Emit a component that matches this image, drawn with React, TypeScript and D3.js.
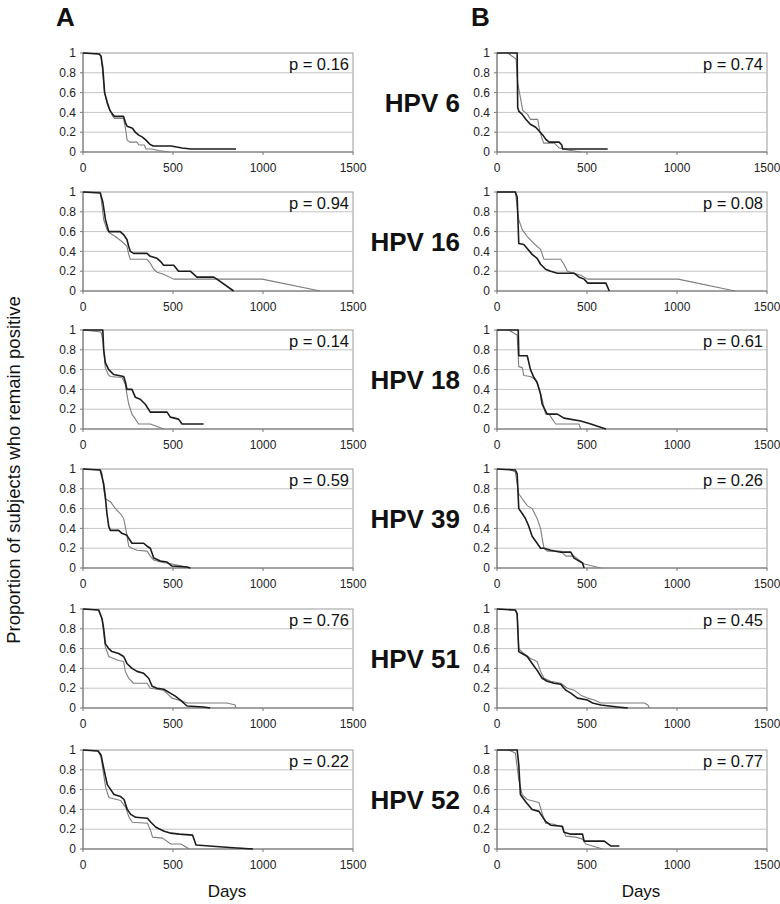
import React from 'react';
import * as d3 from 'd3';

type Pt = [number, number]; // [days, proportion]

// --- data ---
const hpvTypes = ['HPV 6', 'HPV 16', 'HPV 18', 'HPV 39', 'HPV 51', 'HPV 52'];
const pValuesA = ['0.16', '0.94', '0.14', '0.59', '0.76', '0.22'];
const pValuesB = ['0.74', '0.08', '0.61', '0.26', '0.45', '0.77'];
const xTicks = [0, 500, 1000, 1500];
const yTicks = [0, 0.2, 0.4, 0.6, 0.8, 1];
const yTickLabels = ['0', '0.2', '0.4', '0.6', '0.8', '1'];

// HPV 6
const hpv6A_black: Pt[] = [[0, 1], [90, 0.99], [100, 0.97], [110, 0.85], [120, 0.6], [135, 0.5], [150, 0.42], [165, 0.38], [175, 0.36], [225, 0.36], [235, 0.3], [245, 0.26], [275, 0.24], [290, 0.2], [310, 0.17], [330, 0.15], [350, 0.12], [370, 0.08], [390, 0.06], [490, 0.06], [550, 0.04], [600, 0.03], [850, 0.03]];
const hpv6A_gray: Pt[] = [[0, 1], [90, 0.99], [100, 0.96], [110, 0.8], [120, 0.6], [135, 0.48], [150, 0.42], [165, 0.36], [175, 0.34], [225, 0.34], [235, 0.25], [245, 0.12], [260, 0.1], [300, 0.1], [310, 0.07], [340, 0.07], [350, 0.03], [380, 0.03], [420, 0.015], [480, 0]];
const hpv6B_black: Pt[] = [[0, 1], [112, 1], [115, 0.45], [122, 0.41], [140, 0.38], [160, 0.33], [185, 0.28], [215, 0.25], [235, 0.21], [255, 0.17], [270, 0.13], [290, 0.1], [345, 0.1], [360, 0.07], [365, 0.03], [615, 0.03]];
const hpv6B_gray: Pt[] = [[59, 1], [106, 0.94], [115, 0.7], [130, 0.55], [143, 0.42], [170, 0.38], [185, 0.33], [226, 0.33], [239, 0.2], [259, 0.09], [319, 0.09], [346, 0.04], [393, 0.02], [467, 0]];

// HPV 16
const hpv16A_black: Pt[] = [[0, 1], [96, 0.99], [110, 0.9], [125, 0.72], [143, 0.6], [207, 0.6], [225, 0.57], [244, 0.52], [254, 0.45], [263, 0.4], [281, 0.38], [355, 0.38], [374, 0.35], [411, 0.33], [430, 0.3], [448, 0.26], [504, 0.26], [531, 0.2], [596, 0.2], [633, 0.14], [726, 0.14], [744, 0.12], [837, 0]];
const hpv16A_gray: Pt[] = [[0, 1], [96, 1], [115, 0.72], [133, 0.62], [152, 0.58], [180, 0.55], [216, 0.5], [244, 0.45], [254, 0.37], [263, 0.32], [355, 0.32], [374, 0.28], [393, 0.22], [411, 0.19], [448, 0.17], [504, 0.12], [995, 0.12], [1318, 0]];
const hpv16B_black: Pt[] = [[0, 1], [102, 1], [112, 0.95], [121, 0.48], [149, 0.47], [168, 0.43], [195, 0.37], [223, 0.33], [242, 0.27], [270, 0.22], [298, 0.2], [335, 0.18], [428, 0.18], [456, 0.14], [484, 0.12], [503, 0.08], [605, 0.08], [624, 0]];
const hpv16B_gray: Pt[] = [[0, 1], [102, 1], [121, 0.72], [140, 0.62], [168, 0.55], [205, 0.48], [242, 0.42], [261, 0.32], [354, 0.32], [372, 0.27], [391, 0.2], [428, 0.18], [465, 0.16], [503, 0.12], [1006, 0.12], [1322, 0]];

// HPV 18
const hpv18A_black: Pt[] = [[0, 1], [110, 1], [115, 0.8], [124, 0.67], [143, 0.6], [170, 0.55], [226, 0.53], [235, 0.48], [244, 0.4], [272, 0.4], [291, 0.32], [318, 0.3], [346, 0.25], [374, 0.17], [467, 0.17], [485, 0.12], [531, 0.1], [550, 0.05], [670, 0.05]];
const hpv18A_gray: Pt[] = [[0, 1], [100, 0.98], [110, 0.9], [124, 0.62], [140, 0.55], [152, 0.53], [217, 0.52], [235, 0.45], [244, 0.35], [254, 0.25], [272, 0.15], [291, 0.1], [309, 0.05], [374, 0.05], [448, 0]];
const hpv18B_black: Pt[] = [[0, 1], [118, 1], [121, 0.74], [168, 0.74], [186, 0.6], [205, 0.52], [223, 0.47], [242, 0.35], [251, 0.25], [270, 0.18], [279, 0.15], [335, 0.15], [372, 0.11], [465, 0.08], [521, 0.05], [605, 0]];
const hpv18B_gray: Pt[] = [[65, 1], [112, 0.95], [121, 0.63], [140, 0.62], [149, 0.54], [186, 0.53], [214, 0.5], [233, 0.42], [251, 0.3], [270, 0.15], [289, 0.15], [326, 0.05], [456, 0.05], [465, 0]];

// HPV 39
const hpv39A_black: Pt[] = [[0, 1], [96, 0.99], [115, 0.85], [124, 0.72], [133, 0.55], [143, 0.42], [152, 0.38], [198, 0.38], [216, 0.35], [244, 0.33], [254, 0.3], [272, 0.25], [337, 0.25], [356, 0.22], [374, 0.2], [393, 0.1], [430, 0.07], [467, 0.06], [494, 0.02], [578, 0.01], [596, 0]];
const hpv39A_gray: Pt[] = [[0, 1], [96, 0.99], [106, 0.95], [115, 0.8], [124, 0.7], [152, 0.67], [180, 0.6], [207, 0.55], [226, 0.5], [235, 0.42], [244, 0.33], [254, 0.22], [272, 0.2], [300, 0.18], [356, 0.17], [374, 0.12], [393, 0.08], [430, 0.06], [494, 0.04], [578, 0.01], [596, 0]];
const hpv39B_black: Pt[] = [[0, 1], [102, 0.99], [112, 0.95], [121, 0.6], [140, 0.55], [158, 0.5], [177, 0.42], [195, 0.32], [223, 0.25], [242, 0.2], [261, 0.2], [298, 0.18], [354, 0.16], [410, 0.16], [428, 0.1], [447, 0.08], [475, 0.05], [484, 0]];
const hpv39B_gray: Pt[] = [[65, 1], [102, 0.97], [121, 0.75], [140, 0.7], [168, 0.63], [195, 0.6], [223, 0.5], [242, 0.4], [251, 0.3], [261, 0.2], [279, 0.17], [354, 0.17], [382, 0.12], [428, 0.12], [484, 0.04], [577, 0]];

// HPV 51
const hpv51A_black: Pt[] = [[0, 1], [87, 0.99], [106, 0.9], [115, 0.8], [124, 0.65], [143, 0.6], [161, 0.57], [198, 0.55], [226, 0.52], [244, 0.45], [272, 0.4], [300, 0.37], [337, 0.35], [365, 0.3], [384, 0.22], [411, 0.2], [448, 0.19], [485, 0.15], [513, 0.12], [541, 0.08], [578, 0.02], [670, 0.01], [707, 0]];
const hpv51A_gray: Pt[] = [[0, 1], [87, 0.99], [106, 0.9], [124, 0.62], [143, 0.52], [198, 0.48], [226, 0.47], [235, 0.37], [254, 0.3], [281, 0.25], [356, 0.25], [374, 0.2], [448, 0.18], [494, 0.1], [550, 0.07], [578, 0.05], [800, 0.05], [846, 0.03], [848, 0]];
const hpv51B_black: Pt[] = [[0, 1], [102, 0.99], [112, 0.95], [121, 0.57], [140, 0.55], [168, 0.52], [195, 0.45], [223, 0.38], [251, 0.3], [279, 0.27], [317, 0.25], [354, 0.24], [382, 0.18], [410, 0.15], [447, 0.1], [503, 0.08], [531, 0.05], [577, 0.03], [670, 0.01], [726, 0]];
const hpv51B_gray: Pt[] = [[0, 1], [102, 0.99], [112, 0.95], [121, 0.6], [149, 0.55], [186, 0.5], [223, 0.47], [242, 0.37], [261, 0.3], [298, 0.27], [354, 0.25], [391, 0.2], [428, 0.18], [465, 0.13], [503, 0.1], [540, 0.08], [577, 0.05], [819, 0.05], [838, 0.03], [847, 0]];

// HPV 52
const hpv52A_black: Pt[] = [[0, 1], [84, 0.99], [100, 0.95], [117, 0.8], [135, 0.65], [154, 0.6], [172, 0.55], [209, 0.53], [228, 0.5], [246, 0.4], [265, 0.35], [293, 0.32], [358, 0.31], [377, 0.27], [405, 0.22], [451, 0.18], [488, 0.16], [535, 0.15], [609, 0.14], [628, 0.04], [702, 0.03], [814, 0.015], [944, 0]];
const hpv52A_gray: Pt[] = [[0, 1], [84, 0.99], [100, 0.93], [126, 0.62], [144, 0.52], [209, 0.49], [237, 0.42], [256, 0.32], [274, 0.27], [358, 0.26], [377, 0.18], [386, 0.12], [442, 0.11], [488, 0.05], [544, 0.05], [591, 0]];
const hpv52B_black: Pt[] = [[0, 1], [112, 1], [121, 0.85], [130, 0.55], [158, 0.48], [195, 0.4], [233, 0.38], [251, 0.33], [270, 0.28], [298, 0.24], [363, 0.23], [372, 0.17], [410, 0.15], [475, 0.15], [484, 0.08], [596, 0.08], [633, 0.03], [680, 0.03]];
const hpv52B_gray: Pt[] = [[65, 1], [102, 0.97], [121, 0.7], [140, 0.55], [168, 0.5], [233, 0.47], [251, 0.36], [270, 0.26], [317, 0.25], [363, 0.22], [382, 0.13], [438, 0.12], [475, 0.1], [493, 0.05], [587, 0]];

const seriesA = [
  [hpv6A_black, hpv6A_gray], [hpv16A_black, hpv16A_gray], [hpv18A_black, hpv18A_gray],
  [hpv39A_black, hpv39A_gray], [hpv51A_black, hpv51A_gray], [hpv52A_black, hpv52A_gray],
];
const seriesB = [
  [hpv6B_black, hpv6B_gray], [hpv16B_black, hpv16B_gray], [hpv18B_black, hpv18B_gray],
  [hpv39B_black, hpv39B_gray], [hpv51B_black, hpv51B_gray], [hpv52B_black, hpv52B_gray],
];

// --- layout ---
const W = 780;
const H = 904;
const plotW = 270;
const plotH = 99;
const colLeft = [83, 497];
const rowTop = [53, 192, 330, 469, 609, 750];
const FONT = 'Arial, "Liberation Sans", Helvetica, sans-serif';

const x = d3.scaleLinear().domain([0, 1500]).range([0, plotW]);
const y = d3.scaleLinear().domain([0, 1]).range([plotH, 0]);
const line = d3.line<Pt>().x(d => x(d[0])).y(d => y(d[1]));

const Panel: React.FC<{ left: number; top: number; black: Pt[]; gray: Pt[]; p: string }> = ({ left, top, black, gray, p }) => (
  <g transform={`translate(${left},${top})`}>
    <rect x={0} y={0} width={plotW} height={plotH} fill="#fff" stroke="#9a9a9a" strokeWidth={1} />
    {yTicks.filter(t => t > 0 && t < 1).map(t => (
      <line key={t} x1={0} x2={plotW} y1={y(t)} y2={y(t)} stroke="#c4c4c4" strokeWidth={1} />
    ))}
    {/* axes */}
    <line x1={0} x2={plotW} y1={plotH} y2={plotH} stroke="#777" strokeWidth={1} />
    <line x1={0} x2={0} y1={0} y2={plotH} stroke="#777" strokeWidth={1} />
    {xTicks.map(t => (
      <g key={t}>
        <line x1={x(t)} x2={x(t)} y1={plotH} y2={plotH + 3} stroke="#777" />
        <text x={x(t)} y={plotH + 20} textAnchor="middle" fontSize={12} fontFamily={FONT} fill="#222">{t}</text>
      </g>
    ))}
    {yTicks.map((t, i) => (
      <g key={t}>
        <line x1={-3} x2={0} y1={y(t)} y2={y(t)} stroke="#777" />
        <text x={-7} y={y(t) + 4.2} textAnchor="end" fontSize={12} fontFamily={FONT} fill="#222">{yTickLabels[i]}</text>
      </g>
    ))}
    <path d={line(gray) || ''} fill="none" stroke="#7d7d7d" strokeWidth={1.1} strokeLinejoin="round" />
    <path d={line(black) || ''} fill="none" stroke="#1c1c1c" strokeWidth={1.6} strokeLinejoin="round" />
    <text x={plotW - 4} y={17} textAnchor="end" fontSize={16.5} fontFamily={FONT} fill="#111">{`p = ${p}`}</text>
  </g>
);

export default function App() {
  return (
    <svg width={W} height={H} viewBox={`0 0 ${W} ${H}`}
      style={{ position: 'absolute', left: 0, top: 0, background: '#fff' }}>
      <rect width={W} height={H} fill="#fff" />
      <text x={56} y={26} fontSize={26} fontWeight="bold" fontFamily={FONT} fill="#111">A</text>
      <text x={471} y={26} fontSize={26} fontWeight="bold" fontFamily={FONT} fill="#111">B</text>
      {hpvTypes.map((name, i) => (
        <g key={name}>
          <Panel left={colLeft[0]} top={rowTop[i]} black={seriesA[i][0]} gray={seriesA[i][1]} p={pValuesA[i]} />
          <Panel left={colLeft[1]} top={rowTop[i]} black={seriesB[i][0]} gray={seriesB[i][1]} p={pValuesB[i]} />
          <text x={460} y={rowTop[i] + plotH / 2 + 9} textAnchor="end" fontSize={26} fontWeight="bold"
            fontFamily={FONT} fill="#111">{name}</text>
        </g>
      ))}
      <text x={227} y={897} textAnchor="middle" fontSize={17} fontFamily={FONT} fill="#111">Days</text>
      <text x={641} y={897} textAnchor="middle" fontSize={17} fontFamily={FONT} fill="#111">Days</text>
      <text transform="translate(20,470) rotate(-90)" textAnchor="middle" fontSize={18.5} fontFamily={FONT} fill="#111">
        Proportion of subjects who remain positive
      </text>
    </svg>
  );
}
